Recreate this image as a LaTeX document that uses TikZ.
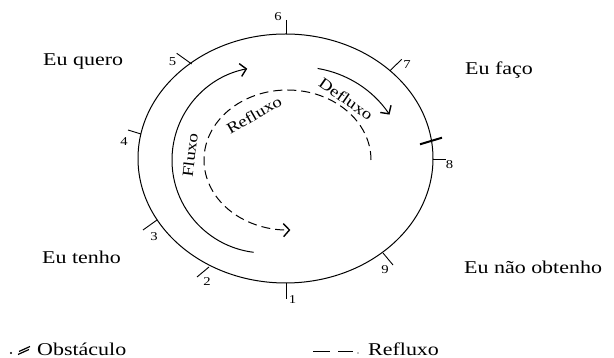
\documentclass[tikz,border=0pt]{standalone}
\usepackage{fontspec}
\setmainfont[FakeStretch=1.22]{Liberation Serif}
\usetikzlibrary{arrows.meta}
\begin{document}
\begin{tikzpicture}[x=1pt,y=-1pt,
  lbl/.style={font=\fontsize{18}{20}\selectfont, inner sep=0pt, anchor=base west},
  num/.style={font=\fontsize{12}{13}\selectfont, inner sep=0pt},
  inlbl/.style={font=\fontsize{15.5}{17}\selectfont, inner sep=0pt},
  tickline/.style={line width=0.9pt},
  flow/.style={line width=1pt, -{Straight Barb[length=6pt,width=13pt,line width=1.4pt]}},
  reflow/.style={flow, dash pattern=on 9pt off 5pt},
]
\useasboundingbox (0,0) rectangle (614,358);

% main cycle
\draw[line width=1pt] (285.5,158.5) ellipse [x radius=147.5, y radius=124.5];

% ticks
\draw[tickline] (286,20) -- (286,34);
\draw[tickline] (286,283) -- (286,299);
\draw[tickline] (433,159) -- (446,159);
\draw[tickline] (176.7,53.3) -- (191.7,64);
\draw[tickline] (401.7,59.3) -- (390,70.7);
\draw[tickline] (128,130) -- (141,134);
\draw[tickline] (143,230) -- (157,220);
\draw[tickline] (197,277) -- (209,267);
\draw[tickline] (383,253) -- (393,265);

\node[num] (n6) at (278,17) {6};
\node[num] (n1) at (292.5,300) {1};
\node[num] (n8) at (449.5,165) {8};
\node[num] (n5) at (172.5,62) {5};
\node[num] (n7) at (407,65) {7};
\node[num] (n4) at (124,142) {4};
\node[num] (n3) at (154,237) {3};
\node[num] (n2) at (207,282) {2};
\node[num] (n9) at (385,270) {9};

% obstacle
\draw[line width=2pt] (420,144.3) -- (442,137.7);

% flows
\draw[flow] ([shift={(97:93)}]265,160) arc [start angle=97, end angle=259, radius=93];
\draw[flow] ([shift={(-80.6:108)}]300,175) arc [start angle=-80.6, end angle=-34, radius=108];
\draw[reflow] ([shift={(0:83.5 and 70)}]287.5,160) arc [start angle=0, end angle=-272, x radius=83.5, y radius=70];

\node[inlbl, rotate=83] (fluxo) at (190,155) {Fluxo};
\node[inlbl, rotate=30] (refluxo) at (254,115) {Refluxo};
\node[inlbl, rotate=-35] (defluxo) at (346,99) {Defluxo};

% outer labels
\node[lbl] (quero) at (43,65.7) {Eu quero};
\node[lbl] (faco) at (465,74.3) {Eu faço};
\node[lbl] (tenho) at (42,263.3) {Eu tenho};
\node[lbl] (naoobt) at (464,273.3) {Eu não obtenho};

% legend
\fill (11,353) circle (1.1);
\draw[line width=1.2pt] (18,354.5) -- (29,349.5);
\draw[line width=1.2pt] (19,351.5) -- (30,346.5);
\node[lbl] (obst) at (37,355.5) {Obstáculo};
\draw[line width=1.3pt] (313,351.7) -- (330,351.7);
\draw[line width=1.3pt] (338,351.7) -- (353,351.7);
\fill (358,353) circle (0.6);
\node[lbl] (reflx) at (368,355.5) {Refluxo};
\end{tikzpicture}
\end{document}
